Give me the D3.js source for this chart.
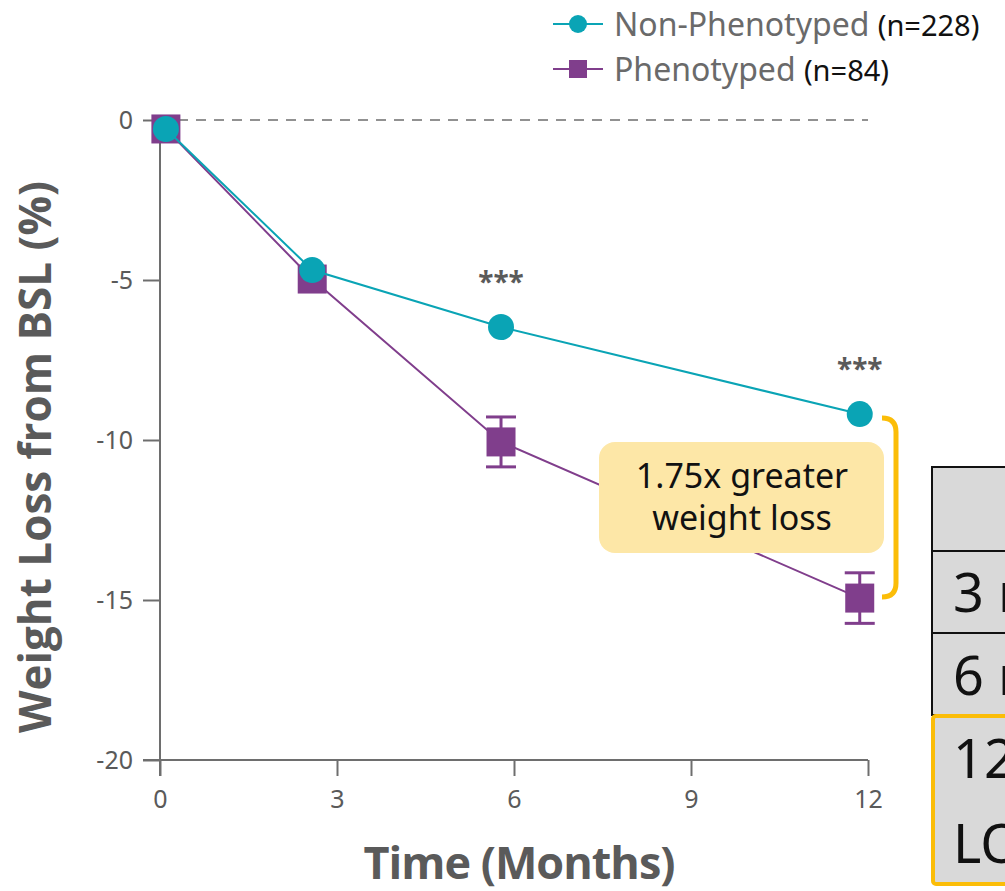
<!DOCTYPE html>
<html><head><meta charset="utf-8">
<script src="https://cdn.jsdelivr.net/npm/d3@7"></script>
<style>
html,body{margin:0;padding:0;background:#fff;}
svg{display:block;font-family:"Noto Sans","Open Sans",sans-serif;}
</style></head>
<body>
<svg id="c" width="1005" height="891"></svg>
<script>
// ---- data ----
const months = [0.1, 2.58, 5.78, 11.86];
const nonPheno = [-0.28, -4.69, -6.47, -9.19];
const pheno = [-0.28, -4.97, -10.06, -14.94];
const phenoErr = [null, null, 0.78, 0.79];
const xTicks = [0, 3, 6, 9, 12];
const yTicks = [0, -5, -10, -15, -20];
const sigMonths = [5.78, 11.86];
const sigLabels = ["***", "***"];
const legendNames = ["Non-Phenotyped", "Phenotyped"];
const legendN = ["(n=228)", "(n=84)"];
const tableRows = ["3 months", "6 months", "12 months", "LOCF"];

const svg = d3.select("#c");
const teal = "#0aa4b5", purple = "#803e8c", axisC = "#6e6e6e", textC = "#5a5a5a";

const x = d3.scaleLinear().domain([0, 12]).range([160, 868]);
const y = d3.scaleLinear().domain([0, -20]).range([120, 760]);

// dashed zero line
svg.append("line").attr("x1", x(0)).attr("x2", x(12)).attr("y1", y(0)).attr("y2", y(0))
  .attr("stroke", axisC).attr("stroke-width", 1.5).attr("stroke-dasharray", "10,8");

// y axis
const yAxis = d3.axisLeft(y).tickValues(yTicks).tickSize(17).tickPadding(10).tickFormat(d => String(d));
const gy = svg.append("g").attr("transform", `translate(${x(0)},0)`).call(yAxis);
gy.select(".domain").remove();
gy.selectAll(".tick line").attr("stroke", axisC).attr("stroke-width", 2);
gy.selectAll(".tick text").attr("fill", textC).style("font-size", "25px").style("font-family", "'Noto Sans',sans-serif");
svg.append("line").attr("x1", x(0)).attr("x2", x(0)).attr("y1", y(0)).attr("y2", y(-20) + 16)
  .attr("stroke", axisC).attr("stroke-width", 2);

// x axis
const xAxis = d3.axisBottom(x).tickValues(xTicks).tickSize(16).tickPadding(14).tickFormat(d => String(d));
const gx = svg.append("g").attr("transform", `translate(0,${y(-20)})`).call(xAxis);
gx.select(".domain").remove();
gx.selectAll(".tick line").attr("stroke", axisC).attr("stroke-width", 2);
gx.selectAll(".tick text").attr("fill", textC).style("font-size", "25px").style("font-family", "'Noto Sans',sans-serif");
svg.append("line").attr("x1", x(0) - 17).attr("x2", x(12)).attr("y1", y(-20)).attr("y2", y(-20))
  .attr("stroke", axisC).attr("stroke-width", 2);

// axis titles
svg.append("text").attr("transform", `translate(51,457) rotate(-90)`).attr("text-anchor", "middle")
  .attr("fill", textC).style("font-size", "44px").style("font-weight", "bold").style("font-family", "'Open Sans',sans-serif")
  .text("Weight Loss from BSL (%)");
svg.append("text").attr("x", 519).attr("y", 879).attr("text-anchor", "middle")
  .attr("fill", textC).style("font-size", "45px").style("font-weight", "bold").style("font-family", "'Open Sans',sans-serif")
  .style("letter-spacing", "-1px")
  .text("Time (Months)");

const line = d3.line().x(d => x(d[0])).y(d => y(d[1]));
const pData = months.map((m, i) => [m, pheno[i], phenoErr[i]]);
const nData = months.map((m, i) => [m, nonPheno[i]]);

// phenotyped
svg.append("path").attr("d", line(pData)).attr("fill", "none").attr("stroke", purple).attr("stroke-width", 2);
const eb = svg.append("g").attr("stroke", purple).attr("stroke-width", 3);
pData.filter(d => d[2] != null).forEach(d => {
  const cx = x(d[0]), y1 = y(d[1] + d[2]), y2 = y(d[1] - d[2]);
  eb.append("line").attr("x1", cx).attr("x2", cx).attr("y1", y1).attr("y2", y2);
  eb.append("line").attr("x1", cx - 15).attr("x2", cx + 15).attr("y1", y1).attr("y2", y1);
  eb.append("line").attr("x1", cx - 15).attr("x2", cx + 15).attr("y1", y2).attr("y2", y2);
});
svg.append("g").selectAll("rect").data(pData).join("rect")
  .attr("x", d => x(d[0]) - 14.5).attr("y", d => y(d[1]) - 14.5).attr("width", 29).attr("height", 29).attr("fill", purple);

// non-phenotyped
svg.append("path").attr("d", line(nData)).attr("fill", "none").attr("stroke", teal).attr("stroke-width", 2);
svg.append("g").selectAll("circle").data(nData).join("circle")
  .attr("cx", d => x(d[0])).attr("cy", d => y(d[1])).attr("r", 13).attr("fill", teal);

// significance
svg.append("g").selectAll("text").data(sigMonths).join("text")
  .attr("x", d => x(d)).attr("y", (d, i) => y(nonPheno[months.indexOf(d)]) - 35)
  .attr("text-anchor", "middle").attr("fill", textC).style("font-size", "28px").style("font-weight", "bold")
  .text((d, i) => sigLabels[i]);

// bracket
const bx0 = 882, bx1 = 896, by0 = y(nonPheno[3]) + 4, by1 = y(pheno[3]) - 1;
svg.append("path").attr("d", `M${bx0},${by0} Q${bx1},${by0} ${bx1},${by0 + 14} L${bx1},${by1 - 14} Q${bx1},${by1} ${bx0},${by1}`)
  .attr("fill", "none").attr("stroke", "#fbbd08").attr("stroke-width", 5);

// annotation box
svg.append("rect").attr("x", 599).attr("y", 442).attr("width", 285).attr("height", 111).attr("rx", 16)
  .attr("fill", "#fde7a7");
svg.append("text").attr("x", 742).attr("y", 488).attr("text-anchor", "middle").attr("fill", "#111")
  .style("font-size", "34px").text("1.75x greater");
svg.append("text").attr("x", 742).attr("y", 530).attr("text-anchor", "middle").attr("fill", "#111")
  .style("font-size", "34px").text("weight loss");

// legend
const lg = svg.append("g");
legendNames.forEach((nm, i) => {
  const ly = 24 + i * 45;
  const c = i === 0 ? teal : purple;
  lg.append("line").attr("x1", 553).attr("x2", 603).attr("y1", ly).attr("y2", ly).attr("stroke", c).attr("stroke-width", 2);
  if (i === 0) lg.append("circle").attr("cx", 578).attr("cy", ly).attr("r", 9).attr("fill", c);
  else lg.append("rect").attr("x", 569).attr("y", ly - 9).attr("width", 18).attr("height", 18).attr("fill", c);
  const t = lg.append("text").attr("x", 614).attr("y", ly + 12);
  t.append("tspan").attr("fill", "#6a6a6a").style("font-size", "32px").text(nm + " ");
  t.append("tspan").attr("fill", "#111").style("font-size", "29px").text(legendN[i]);
});

// partial table on right
const tg = svg.append("g");
tg.append("rect").attr("x", 932).attr("y", 467).attr("width", 100).attr("height", 248).attr("fill", "#d9d9d9")
  .attr("stroke", "#111").attr("stroke-width", 2);
tg.append("line").attr("x1", 932).attr("x2", 1005).attr("y1", 551).attr("y2", 551).attr("stroke", "#111").attr("stroke-width", 2);
tg.append("line").attr("x1", 932).attr("x2", 1005).attr("y1", 633).attr("y2", 633).attr("stroke", "#111").attr("stroke-width", 2);
tg.append("rect").attr("x", 933).attr("y", 716).attr("width", 100).attr("height", 168).attr("rx", 3)
  .attr("fill", "#d9d9d9").attr("stroke", "#fbbd08").attr("stroke-width", 4);
const rowY = [612, 695, 778, 863];
tableRows.forEach((r, i) => {
  tg.append("text").attr("x", 953).attr("y", rowY[i]).attr("fill", "#111").style("font-size", "54px").text(r);
});
</script>
</body></html>
